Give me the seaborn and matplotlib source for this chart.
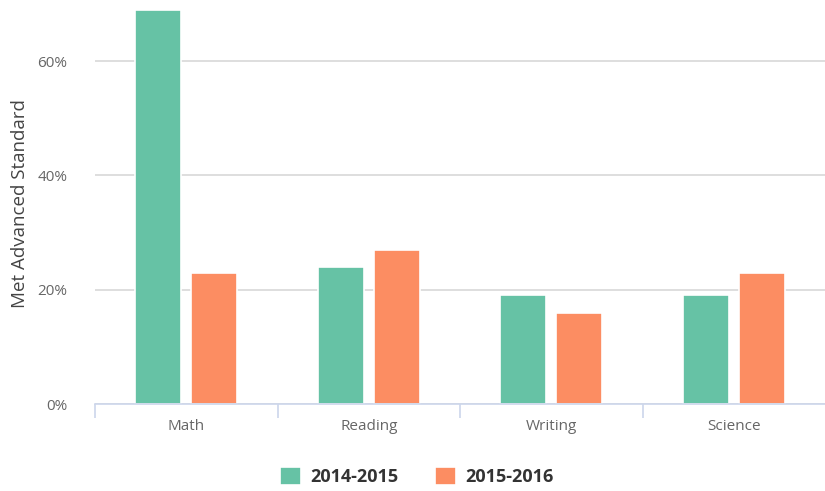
import numpy as np
import pandas as pd
import matplotlib
matplotlib.use('Agg')
import matplotlib.pyplot as plt
import seaborn as sns
from matplotlib.ticker import FuncFormatter, FixedLocator

subjects = ['Math', 'Reading', 'Writing', 'Science']
years = ['2014-2015', '2015-2016']
vals_2014 = [0.69, 0.24, 0.19, 0.19]
vals_2015 = [0.23, 0.27, 0.16, 0.23]
colors = ['#66c2a5', '#fc8d62']

df = pd.DataFrame({
    'subject': subjects * 2,
    'year': [years[0]] * 4 + [years[1]] * 4,
    'value': vals_2014 + vals_2015,
})

sns.set_theme(style='white')
plt.rcParams['font.family'] = ['Open Sans', 'DejaVu Sans']

fig = plt.figure(figsize=(8.25, 4.91), dpi=100)
ax = fig.add_axes([95 / 825, 87 / 491, 730 / 825, 400 / 491])

sns.barplot(data=df, x='subject', y='value', hue='year', order=subjects,
            hue_order=years, palette=colors, width=0.614, gap=0.18,
            edgecolor='white', linewidth=1.2, saturation=1, ax=ax)

ax.set_xlim(-0.5, 3.5)
ax.set_ylim(0, 0.7)
ax.set_yticks([0, 0.2, 0.4, 0.6])
ax.yaxis.set_major_formatter(FuncFormatter(lambda v, p: f'{int(round(v * 100))}%'))
ax.yaxis.grid(True, color='#d8d8d8', linewidth=1.2)
ax.set_axisbelow(True)
ax.tick_params(axis='y', length=0, pad=20, labelsize=11, labelcolor='#666666')
ax.tick_params(axis='x', which='major', length=0, pad=11, labelsize=11, labelcolor='#666666')
ax.xaxis.set_minor_locator(FixedLocator([-0.5, 0.5, 1.5, 2.5]))
ax.tick_params(axis='x', which='minor', length=10, width=1.2, color='#ccd6eb', bottom=True)

for side in ['top', 'right', 'left']:
    ax.spines[side].set_visible(False)
ax.spines['bottom'].set_color('#ccd6eb')
ax.spines['bottom'].set_linewidth(1.2)

ax.set_xlabel('')
ax.set_ylabel('Met Advanced Standard', fontsize=13.5, color='#444444', labelpad=6)

handles, labels = ax.get_legend_handles_labels()
ax.legend_.remove()
leg = fig.legend(handles, labels, loc='center', bbox_to_anchor=(0.505, 0.03), ncol=2,
                 frameon=False, handlelength=1.2, handleheight=1.2, handletextpad=0.5,
                 columnspacing=2.0, prop={'weight': 'bold', 'size': 13})
for t in leg.get_texts():
    t.set_color('#333333')

fig.savefig('out.png', dpi=100)
